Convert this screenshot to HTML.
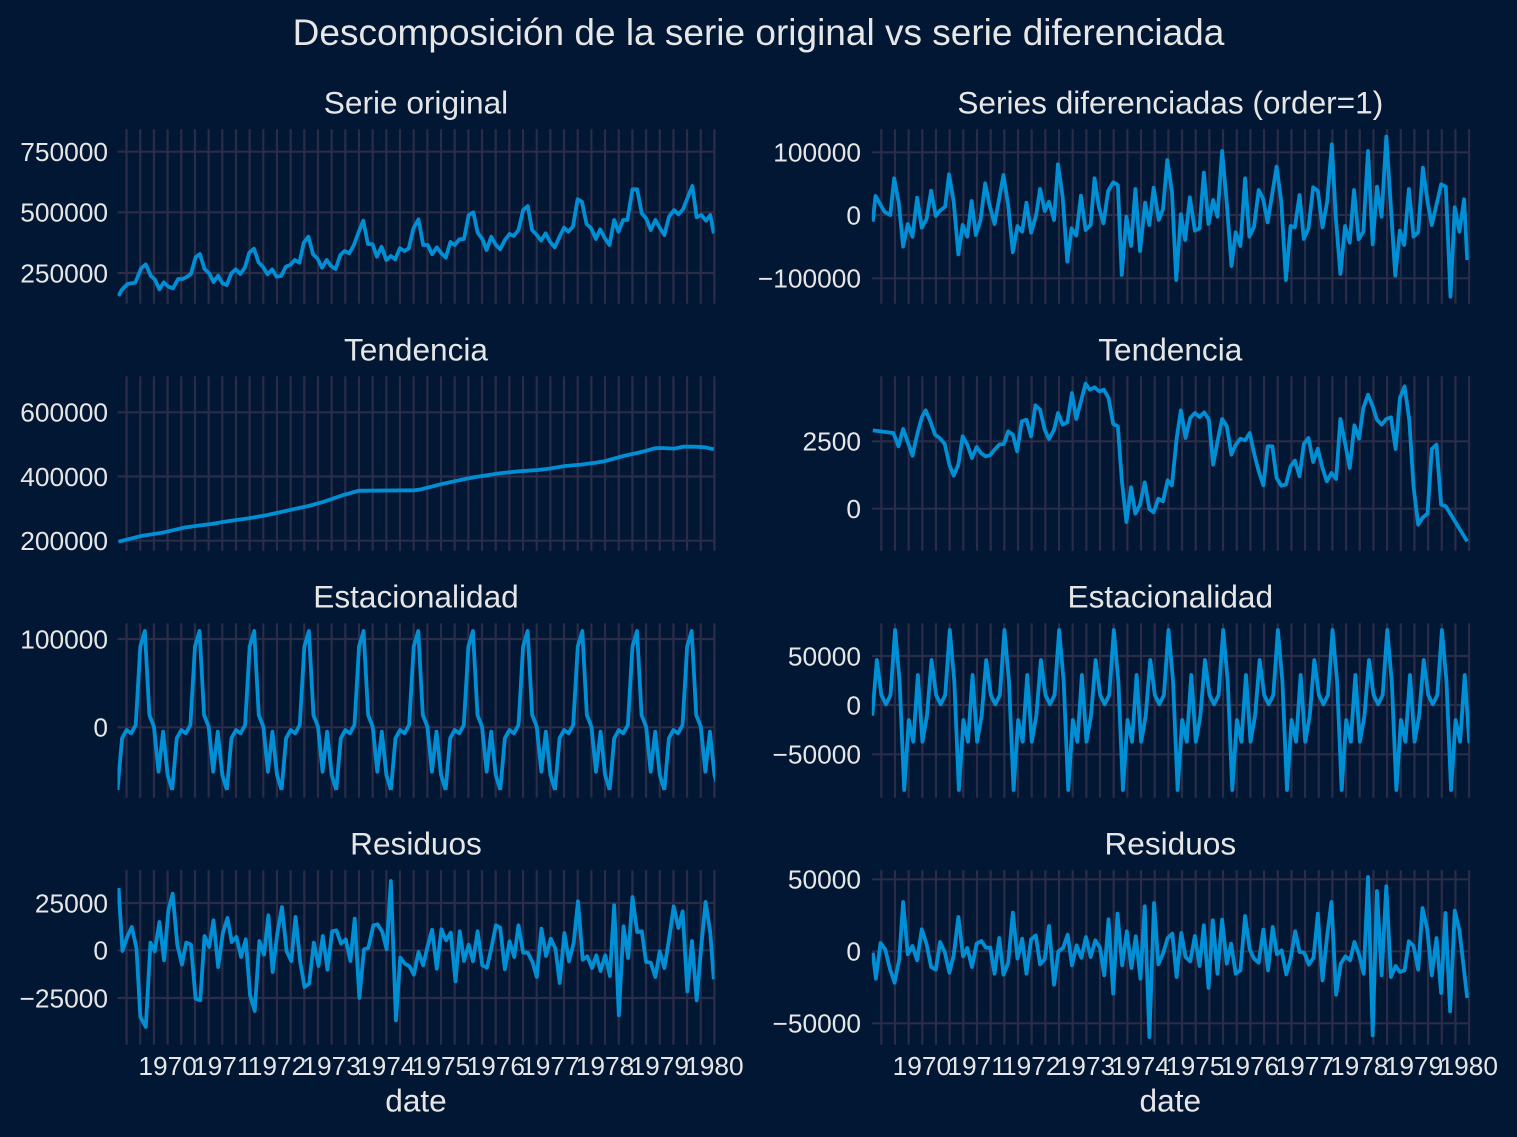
<!DOCTYPE html>
<html>
<head>
<meta charset="utf-8">
<style>
  html, body { margin: 0; padding: 0; background: #011733; }
  svg { display: block; }
  text { font-family: "Liberation Sans", Arial, sans-serif; fill: #e6e6e6; }
  .tk { font-size: 26.3px; }
  .ttl { font-size: 31.6px; text-anchor: middle; }
  .ln { fill: none; stroke: #008fd5; stroke-width: 3.8; stroke-linejoin: round; stroke-linecap: butt; }
  .grid { stroke: #2b2c48; stroke-width: 2.2; fill: none; }
</style>
</head>
<body>
<svg width="1517" height="1137" viewBox="0 0 1517 1137" xmlns="http://www.w3.org/2000/svg">
  <rect x="0" y="0" width="1517" height="1137" fill="#011733"/>
  <defs>
    <path id="vg" class="grid" d="M126.6 129.3v174.4
      m13.67-174.4v174.4 m13.67-174.4v174.4 m13.67-174.4v174.4 m13.67-174.4v174.4 m13.67-174.4v174.4
      m13.67-174.4v174.4 m13.67-174.4v174.4 m13.67-174.4v174.4 m13.67-174.4v174.4 m13.67-174.4v174.4
      m13.67-174.4v174.4 m13.67-174.4v174.4 m13.67-174.4v174.4 m13.67-174.4v174.4 m13.67-174.4v174.4
      m13.67-174.4v174.4 m13.67-174.4v174.4 m13.67-174.4v174.4 m13.67-174.4v174.4 m13.67-174.4v174.4
      m13.67-174.4v174.4 m13.67-174.4v174.4 m13.67-174.4v174.4 m13.67-174.4v174.4 m13.67-174.4v174.4
      m13.67-174.4v174.4 m13.67-174.4v174.4 m13.67-174.4v174.4 m13.67-174.4v174.4 m13.67-174.4v174.4
      m13.67-174.4v174.4 m13.67-174.4v174.4 m13.67-174.4v174.4 m13.67-174.4v174.4 m13.67-174.4v174.4
      m13.67-174.4v174.4 m13.67-174.4v174.4 m13.67-174.4v174.4 m13.67-174.4v174.4 m13.67-174.4v174.4
      m13.67-174.4v174.4 m13.67-174.4v174.4 m13.67-174.4v174.4"/>
    <polyline id="sl" class="ln" points="0,790 4.557,738.3 9.114,730 13.671,733.3 18.228,725 22.785,646.7 27.342,631 31.899,715 36.456,726.7 41.013,771.7 45.57,731.7 50.127,775 54.684,790"/>
    <polyline id="sr" class="ln" points="0,715.7 4.557,660 9.114,695 13.671,704.3 18.228,695 22.785,630 27.342,681.7 31.899,790 36.456,720 41.013,741.7 45.57,675 50.127,741.7 54.684,715.7"/>
    <clipPath id="cl1"><rect x="117.5" y="125" width="597" height="182"/></clipPath>
    <clipPath id="cl2"><rect x="117.5" y="372" width="597" height="182"/></clipPath>
    <clipPath id="cl3"><rect x="117.5" y="619" width="597.5" height="182"/></clipPath>
    <clipPath id="cl4"><rect x="117.5" y="866" width="597" height="182"/></clipPath>
    <clipPath id="cr1"><rect x="871.8" y="125" width="597" height="182"/></clipPath>
    <clipPath id="cr2"><rect x="871.8" y="372" width="597" height="182"/></clipPath>
    <clipPath id="cr3"><rect x="871.8" y="619" width="597.5" height="182"/></clipPath>
    <clipPath id="cr4"><rect x="871.8" y="866" width="597" height="182"/></clipPath>
  </defs>

  <!-- Vertical grids -->
  <use href="#vg"/>
  <use href="#vg" transform="translate(0,247)"/>
  <use href="#vg" transform="translate(0,494)"/>
  <use href="#vg" transform="translate(0,741)"/>
  <use href="#vg" transform="translate(754.7,0)"/>
  <use href="#vg" transform="translate(754.7,247)"/>
  <use href="#vg" transform="translate(754.7,494)"/>
  <use href="#vg" transform="translate(754.7,741)"/>

  <!-- Horizontal grids -->
  <path class="grid" d="M117.5 151.7H714.5M117.5 212.3H714.5M117.5 273H714.5
    M117.5 412.3H714.5M117.5 476.5H714.5M117.5 540.7H714.5
    M117.5 639H714.5M117.5 727.3H714.5
    M117.5 903H714.5M117.5 950.3H714.5M117.5 998H714.5
    M871.8 152.3H1468.8M871.8 215H1468.8M871.8 278.3H1468.8
    M871.8 441.3H1468.8M871.8 508.7H1468.8
    M871.8 656H1468.8M871.8 705H1468.8M871.8 754.3H1468.8
    M871.8 879.3H1468.8M871.8 951.3H1468.8M871.8 1023.3H1468.8"/>

  <!-- Titles -->
  <text x="758.5" y="45" style="font-size:37px;text-anchor:middle">Descomposición de la serie original vs serie diferenciada</text>
  <text class="ttl" x="416" y="113.5">Serie original</text>
  <text class="ttl" x="1170.3" y="113.5">Series diferenciadas (order=1)</text>
  <text class="ttl" x="416" y="360.5">Tendencia</text>
  <text class="ttl" x="1170.3" y="360.5">Tendencia</text>
  <text class="ttl" x="416" y="607.5">Estacionalidad</text>
  <text class="ttl" x="1170.3" y="607.5">Estacionalidad</text>
  <text class="ttl" x="416" y="854.5">Residuos</text>
  <text class="ttl" x="1170.3" y="854.5">Residuos</text>

  <!-- Y tick labels -->
  <g>
    <text class="tk" x="108" y="161.1" text-anchor="end">750000</text>
    <text class="tk" x="108" y="221.7" text-anchor="end">500000</text>
    <text class="tk" x="108" y="282.4" text-anchor="end">250000</text>
    <text class="tk" x="108" y="421.7" text-anchor="end">600000</text>
    <text class="tk" x="108" y="485.9" text-anchor="end">400000</text>
    <text class="tk" x="108" y="550.1" text-anchor="end">200000</text>
    <text class="tk" x="108" y="648.4" text-anchor="end">100000</text>
    <text class="tk" x="108" y="736.7" text-anchor="end">0</text>
    <text class="tk" x="108" y="912.4" text-anchor="end">25000</text>
    <text class="tk" x="108" y="959.7" text-anchor="end">0</text>
    <text class="tk" x="108" y="1007.4" text-anchor="end">−25000</text>
    <text class="tk" x="861" y="161.7" text-anchor="end">100000</text>
    <text class="tk" x="861" y="224.4" text-anchor="end">0</text>
    <text class="tk" x="861" y="287.7" text-anchor="end">−100000</text>
    <text class="tk" x="861" y="450.7" text-anchor="end">2500</text>
    <text class="tk" x="861" y="518.1" text-anchor="end">0</text>
    <text class="tk" x="861" y="665.4" text-anchor="end">50000</text>
    <text class="tk" x="861" y="714.4" text-anchor="end">0</text>
    <text class="tk" x="861" y="763.7" text-anchor="end">−50000</text>
    <text class="tk" x="861" y="888.7" text-anchor="end">50000</text>
    <text class="tk" x="861" y="960.7" text-anchor="end">0</text>
    <text class="tk" x="861" y="1032.7" text-anchor="end">−50000</text>
  </g>

  <!-- X tick labels -->
  <g>
    <text class="tk" x="167.6" y="1075" text-anchor="middle">1970</text>
    <text class="tk" x="222.3" y="1075" text-anchor="middle">1971</text>
    <text class="tk" x="277.0" y="1075" text-anchor="middle">1972</text>
    <text class="tk" x="331.6" y="1075" text-anchor="middle">1973</text>
    <text class="tk" x="386.3" y="1075" text-anchor="middle">1974</text>
    <text class="tk" x="441.0" y="1075" text-anchor="middle">1975</text>
    <text class="tk" x="495.7" y="1075" text-anchor="middle">1976</text>
    <text class="tk" x="550.4" y="1075" text-anchor="middle">1977</text>
    <text class="tk" x="605.0" y="1075" text-anchor="middle">1978</text>
    <text class="tk" x="659.7" y="1075" text-anchor="middle">1979</text>
    <text class="tk" x="714.4" y="1075" text-anchor="middle">1980</text>
    <text class="tk" x="921.9" y="1075" text-anchor="middle">1970</text>
    <text class="tk" x="976.6" y="1075" text-anchor="middle">1971</text>
    <text class="tk" x="1031.3" y="1075" text-anchor="middle">1972</text>
    <text class="tk" x="1085.9" y="1075" text-anchor="middle">1973</text>
    <text class="tk" x="1140.6" y="1075" text-anchor="middle">1974</text>
    <text class="tk" x="1195.3" y="1075" text-anchor="middle">1975</text>
    <text class="tk" x="1250.0" y="1075" text-anchor="middle">1976</text>
    <text class="tk" x="1304.7" y="1075" text-anchor="middle">1977</text>
    <text class="tk" x="1359.3" y="1075" text-anchor="middle">1978</text>
    <text class="tk" x="1414.0" y="1075" text-anchor="middle">1979</text>
    <text class="tk" x="1468.7" y="1075" text-anchor="middle">1980</text>
  </g>
  <text class="ttl" x="416" y="1111.5">date</text>
  <text class="ttl" x="1170.3" y="1111.5">date</text>

  <!-- Row 1 left: original -->
  <g clip-path="url(#cl1)">
    <polyline class="ln" vector-effect="non-scaling-stroke" transform="translate(110,120) scale(0.38903,0.33333)" points="22,528 30,510 45,492 65,488 80,445 92,433 105,468 115,478 127,508 138,487 150,500 162,505 175,477 187,477 198,470 208,462 220,412 231,402 243,447 255,460 266,486 278,467 289,490 300,495 312,460 323,448 335,462 347,442 358,398 370,386 382,427 393,440 405,463 417,448 428,470 440,468 452,440 463,435 475,420 487,428 498,368 510,350 522,403 533,415 545,443 557,420 568,438 580,447 592,405 603,393 615,400 627,375 638,340 651,302 663,372 675,373 686,410 698,380 710,420 722,408 733,418 745,385 757,393 768,385 780,325 793,298 805,375 817,375 828,403 840,382 852,400 863,413 875,366 886,375 898,358 910,357 922,285 934,277 945,338 957,357 968,390 980,350 992,375 1003,388 1015,360 1027,342 1038,348 1050,330 1062,270 1074,258 1085,330 1097,345 1108,362 1120,340 1131,365 1143,382 1155,352 1167,323 1178,335 1190,320 1202,238 1213,245 1225,312 1237,325 1249,357 1260,328 1272,355 1284,375 1296,300 1307,335 1319,300 1330,300 1343,208 1355,208 1367,280 1378,295 1390,330 1402,300 1413,323 1425,345 1437,290 1450,270 1461,283 1473,268 1485,232 1497,198 1508,292 1520,285 1532,302 1543,285 1552,340"/>
  </g>

  <!-- Row 1 right: diff -->
  <g clip-path="url(#cr1)">
    <polyline class="ln" vector-effect="non-scaling-stroke" transform="translate(865,120) scale(0.38903,0.33333)" points="20,305 27,228 50,275 65,285 75,175 87,250 98,380 110,312 122,350 134,233 146,323 158,298 170,212 182,288 192,273 206,260 216,163 228,245 240,403 251,315 263,350 274,243 285,345 297,300 309,190 320,255 333,312 356,165 368,255 380,397 392,318 404,335 415,248 427,338 440,285 450,207 462,273 473,245 486,300 496,133 508,230 520,425 531,325 543,347 555,227 567,330 580,315 590,175 601,260 613,310 625,213 638,187 650,195 660,465 672,290 684,378 695,207 707,393 720,248 731,315 742,203 755,300 766,268 777,120 789,215 800,480 812,283 823,360 835,232 848,332 860,325 871,158 883,312 895,240 906,290 918,93 930,250 942,438 953,337 965,378 977,175 988,350 1000,320 1012,210 1023,235 1035,307 1058,140 1070,245 1082,480 1094,318 1105,322 1117,225 1128,357 1140,325 1152,202 1164,212 1176,322 1188,245 1200,73 1210,290 1222,462 1234,318 1246,368 1257,210 1269,358 1281,335 1293,93 1305,373 1316,200 1328,290 1340,50 1352,265 1363,467 1375,332 1386,375 1398,207 1410,350 1422,337 1434,143 1446,245 1457,315 1481,193 1493,200 1505,530 1516,262 1528,335 1540,238 1548,420"/>
  </g>

  <!-- Row 2 left: trend -->
  <g clip-path="url(#cl2)">
    <polyline class="ln" vector-effect="non-scaling-stroke" transform="translate(110,330) scale(0.38903,0.33333)" points="22,635 80,618 135,608 190,593 220,588 260,582 300,574 355,565 400,556 440,546 470,538 510,528 550,515 600,495 640,482 660,482 780,481 800,478 850,463 880,455 930,443 1000,430 1050,424 1100,420 1130,416 1170,408 1210,404 1250,398 1270,394 1320,378 1370,365 1400,355 1420,354 1450,356 1475,350 1500,350 1530,352 1552,358"/>
  </g>

  <!-- Row 2 right: trend of diff -->
  <g clip-path="url(#cr2)">
    <polyline class="ln" vector-effect="non-scaling-stroke" transform="translate(865,368) scale(0.38903,0.33333)" points="20,187 73,195 86,235 98,183 110,222 122,263 134,200 146,148 156,127 168,160 180,200 192,210 205,228 217,290 228,323 240,290 251,205 263,230 275,270 287,237 298,255 310,265 321,262 333,245 345,230 357,228 368,190 380,200 391,250 403,160 415,155 427,205 438,112 450,125 462,185 473,213 486,185 496,135 508,170 520,163 532,75 543,153 555,100 567,47 578,65 590,58 602,70 614,65 626,90 638,168 650,175 660,335 672,462 684,358 695,437 707,410 719,343 731,423 742,433 754,392 766,400 778,337 789,352 801,212 812,127 824,210 836,150 848,135 860,147 872,133 884,155 895,290 907,215 918,153 930,175 942,260 953,230 965,212 977,217 989,195 1000,255 1012,310 1024,352 1035,235 1047,235 1058,330 1070,353 1082,350 1094,295 1105,278 1117,325 1128,228 1140,210 1152,282 1164,242 1176,300 1187,340 1199,315 1211,333 1222,153 1234,225 1246,300 1258,172 1270,212 1281,120 1293,80 1305,115 1316,155 1328,170 1340,153 1352,148 1364,243 1375,90 1387,55 1399,155 1410,355 1422,470 1434,448 1446,437 1457,243 1469,230 1481,410 1493,415 1548,520"/>
  </g>

  <!-- Row 3 left: seasonal -->
  <g clip-path="url(#cl3)">
    <use href="#sl" x="117.5"/>
    <use href="#sl" x="172.18"/>
    <use href="#sl" x="226.87"/>
    <use href="#sl" x="281.55"/>
    <use href="#sl" x="336.24"/>
    <use href="#sl" x="390.92"/>
    <use href="#sl" x="445.6"/>
    <use href="#sl" x="500.29"/>
    <use href="#sl" x="554.97"/>
    <use href="#sl" x="609.66"/>
    <use href="#sl" x="664.34"/>
  </g>

  <!-- Row 3 right: seasonal -->
  <g clip-path="url(#cr3)">
    <use href="#sr" x="872.3"/>
    <use href="#sr" x="926.98"/>
    <use href="#sr" x="981.67"/>
    <use href="#sr" x="1036.35"/>
    <use href="#sr" x="1091.04"/>
    <use href="#sr" x="1145.72"/>
    <use href="#sr" x="1200.4"/>
    <use href="#sr" x="1255.09"/>
    <use href="#sr" x="1309.77"/>
    <use href="#sr" x="1364.46"/>
    <use href="#sr" x="1419.14"/>
  </g>

  <!-- Row 4 left: residuals -->
  <g clip-path="url(#cl4)">
    <polyline class="ln" vector-effect="non-scaling-stroke" transform="translate(110,862) scale(0.38903,0.33333)" points="22,78 32,267 44,225 56,195 68,258 78,465 92,495 104,242 115,268 127,180 139,295 150,145 161,95 173,248 185,308 196,242 208,248 220,410 232,415 243,222 255,255 266,175 278,315 290,213 302,168 313,240 325,225 337,285 349,232 360,400 372,447 384,237 396,278 407,160 418,330 430,215 442,135 454,268 466,297 477,165 489,300 500,375 512,365 524,242 536,312 547,222 559,323 571,208 582,205 594,245 606,232 618,297 629,170 641,408 653,262 664,258 677,190 688,187 700,210 711,262 722,57 735,475 746,287 758,305 770,313 781,338 793,270 805,310 816,255 828,203 840,320 852,202 864,235 876,212 888,358 899,208 910,297 922,248 933,298 945,208 957,310 969,317 980,260 992,190 1003,197 1015,322 1027,238 1039,285 1050,190 1062,272 1074,272 1086,300 1097,345 1109,200 1121,282 1133,230 1145,260 1156,363 1168,213 1180,298 1192,242 1203,118 1215,293 1227,283 1239,318 1250,280 1261,327 1273,280 1285,342 1296,130 1308,460 1320,193 1332,288 1343,105 1355,210 1367,208 1378,300 1390,302 1402,345 1413,268 1425,318 1437,232 1449,133 1461,198 1472,148 1484,388 1496,237 1508,415 1520,250 1531,120 1543,212 1552,352"/>
  </g>

  <!-- Row 4 right: residuals -->
  <g clip-path="url(#cr4)">
    <polyline class="ln" vector-effect="non-scaling-stroke" transform="translate(865,862) scale(0.38903,0.33333)" points="20,272 28,350 40,243 52,262 64,320 76,362 88,292 98,120 110,277 122,252 134,295 146,202 158,245 170,315 182,323 193,240 205,270 217,332 228,280 240,165 252,283 263,258 275,315 287,245 299,237 311,257 322,257 333,335 345,228 356,338 368,303 380,152 392,290 404,230 415,335 427,232 439,220 450,307 462,292 473,192 486,368 497,268 509,258 521,218 532,310 544,250 556,287 568,225 580,285 592,235 604,257 615,340 626,172 638,395 649,155 661,310 673,208 685,318 696,223 708,350 719,133 731,525 743,123 754,307 766,275 778,228 790,215 801,345 813,213 824,285 836,298 848,222 860,312 871,190 883,378 894,175 906,335 918,173 930,305 941,245 953,335 965,325 977,162 989,262 1000,290 1012,302 1024,203 1036,325 1048,195 1059,277 1071,265 1083,337 1094,290 1106,208 1117,270 1129,272 1141,308 1153,287 1164,155 1176,355 1188,220 1199,120 1211,398 1223,305 1235,283 1247,295 1258,240 1270,278 1282,335 1293,45 1305,520 1316,87 1328,340 1340,73 1352,345 1364,312 1375,330 1387,325 1398,238 1410,252 1422,323 1433,138 1445,200 1457,340 1469,228 1481,393 1492,153 1504,448 1516,146 1528,205 1548,408"/>
  </g>
</svg>
</body>
</html>
